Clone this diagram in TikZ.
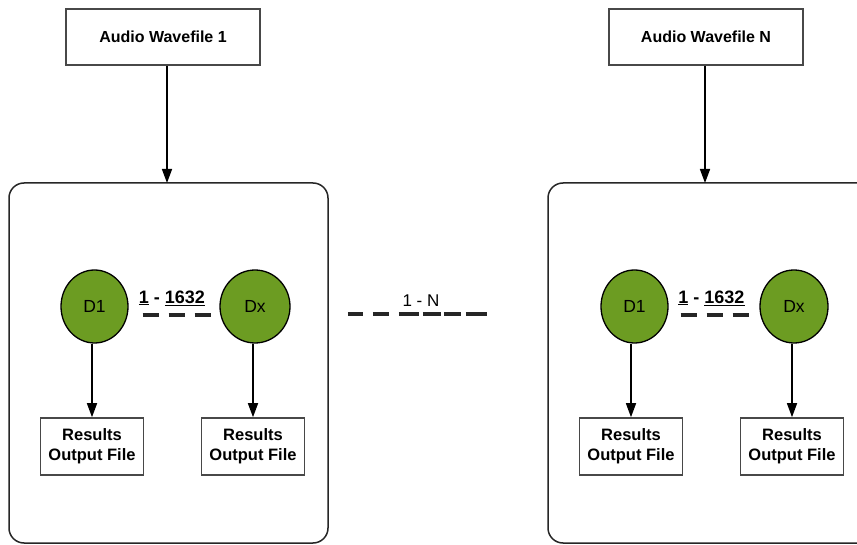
\documentclass[tikz,border=0pt]{standalone}
\usepackage{fontspec}
\setmainfont{Liberation Sans}
\usetikzlibrary{arrows.meta,shapes.geometric}
\definecolor{dgreen}{RGB}{108,156,34}
\definecolor{edgegray}{RGB}{72,72,72}
\begin{document}
\begin{tikzpicture}[x=1pt,y=-1pt,
  filebox/.style={draw=edgegray, line width=1.6pt, fill=white, minimum width=194pt, minimum height=56pt, inner sep=0pt, font=\fontsize{16}{20}\selectfont\bfseries},
  resbox/.style={draw=edgegray, line width=1.6pt, fill=white, minimum width=103pt, minimum height=57pt, inner sep=0pt, align=center, font=\fontsize{16.5}{20}\selectfont\bfseries},
  container/.style={draw=black!85, line width=1.5pt, rounded corners=15pt, inner sep=0pt},
  dnode/.style={ellipse, draw=black, line width=1.3pt, fill=dgreen, minimum width=67pt, minimum height=73pt, inner sep=0pt, font=\fontsize{17.5}{20}\selectfont},
  arrowline/.style={-{Triangle[length=14pt,width=10pt]}, line width=1.5pt, black},
  dashline/.style={line width=3.2pt, black!85, dash pattern=on 16pt off 10pt},
  biglabel/.style={inner sep=0pt, font=\fontsize{18}{20}\selectfont\bfseries},
  nlabel/.style={inner sep=0pt, font=\fontsize{17}{20}\selectfont},
]
\clip (0,0) rectangle (857,545);
\fill[white] (0,0) rectangle (857,545);

% containers
\node[container, minimum width=319pt, minimum height=360pt] (c1) at (168.5,363) {};
\node[container, minimum width=330pt, minimum height=360pt] (c2) at (713,363) {};

% top file boxes
\node[filebox] (f1) at (163,37) {Audio Wavefile 1};
\node[filebox] (f2) at (706,37) {Audio Wavefile N};
\coordinate (t1) at (167,183);
\coordinate (t2) at (705,183);
\draw[arrowline] (f1.south -| t1) -- (t1);
\draw[arrowline] (f2.south -| t2) -- (t2);

% left container
\node[dnode] (d1a) at (94.5,306.5) {D1};
\node[dnode, minimum width=70pt] (dxa) at (255,306.5) {Dx};
\node[resbox] (r1a) at (92,446.5) {Results\\Output File};
\node[resbox] (r2a) at (253,446.5) {Results\\Output File};
\draw[arrowline] (d1a.south -| r1a.north) -- (r1a.north);
\draw[arrowline] (dxa.south -| r2a.north) -- (r2a.north);
\draw[dashline, shorten <=14pt, shorten >=7pt] ([yshift=-8.5pt]d1a.east) -- ([yshift=-8.5pt]dxa.west);
\node[biglabel] (la) at (172,298) {\underline{1} - \underline{1632}};

% right container
\node[dnode] (d1b) at (634.5,306.5) {D1};
\node[dnode, minimum width=68pt] (dxb) at (794,306.5) {Dx};
\node[resbox] (r1b) at (631,446.5) {Results\\Output File};
\node[resbox] (r2b) at (792,446.5) {Results\\Output File};
\draw[arrowline] (d1b.south -| r1b.north) -- (r1b.north);
\draw[arrowline] (dxb.south -| r2b.north) -- (r2b.north);
\draw[dashline, shorten <=12pt, shorten >=8pt] ([yshift=-8.5pt]d1b.east) -- ([yshift=-8.5pt]dxb.west);
\node[biglabel] (lb) at (711.5,298) {\underline{1} - \underline{1632}};

% between containers
\draw[line width=3.2pt, black!85, shorten <=19pt, shorten >=60pt,
  dash pattern=on 15pt off 10pt on 16pt off 10pt on 20pt off 4pt on 18pt off 3pt on 17pt off 5pt on 23pt off 100pt]
  (c1.east |- 0,314) -- (c2.west |- 0,314);
\node[nlabel] (ln) at (421,301) {1 - N};
\end{tikzpicture}
\end{document}
